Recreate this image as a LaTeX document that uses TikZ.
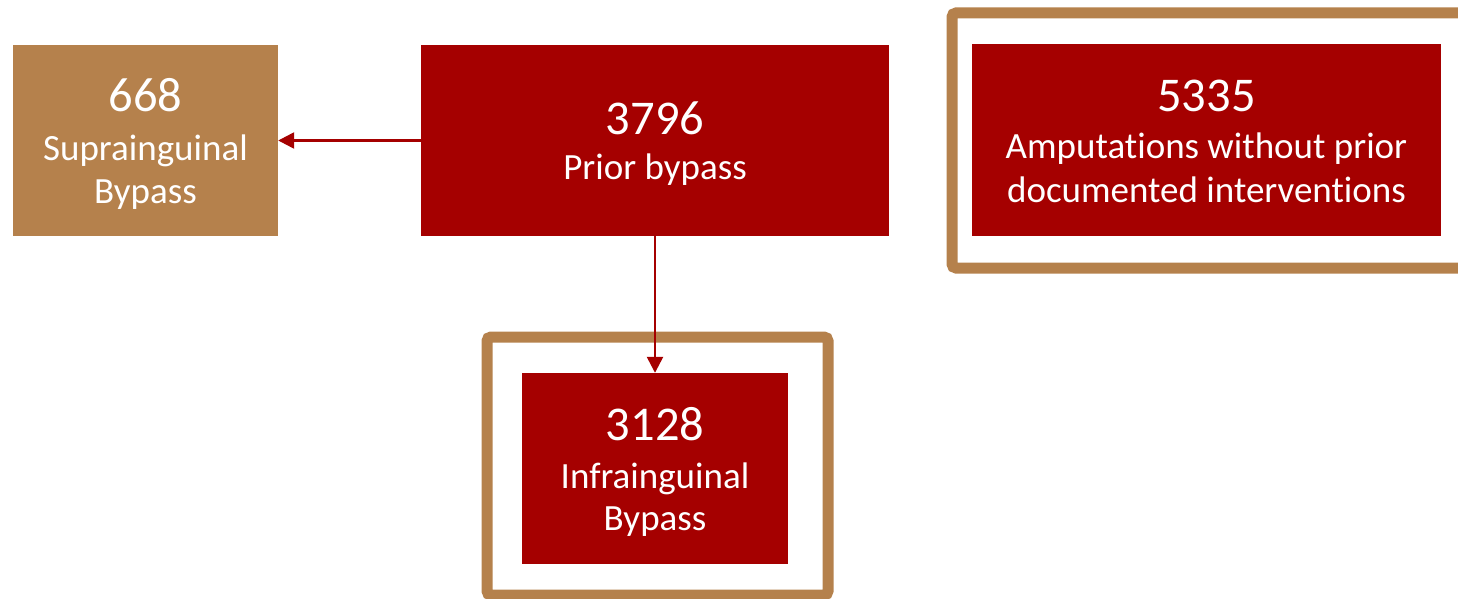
\documentclass[tikz,border=0pt]{standalone}
\usepackage{fontspec}
\setmainfont{Carlito}[Ligatures=NoCommon]
\usetikzlibrary{arrows.meta}
\definecolor{dred}{RGB}{165,0,0}
\definecolor{tanc}{RGB}{181,129,76}
\tikzset{
  redbox/.style={fill=dred, draw=none, inner sep=0pt},
  tanbox/.style={fill=tanc, draw=none, inner sep=0pt},
  frame/.style={draw=tanc, line width=11pt, rounded corners=4pt},
  conn/.style={draw=dred, line width=2.5pt, -{Triangle[length=16pt,width=16pt]}},
  numtxt/.style={text=white, anchor=base, inner sep=0pt, font=\fontsize{48.5}{50}\selectfont},
  lbltxt/.style={text=white, anchor=base, inner sep=0pt, font=\fontsize{37}{40}\selectfont},
}
\begin{document}
\begin{tikzpicture}[x=1pt,y=-1pt]
\useasboundingbox (0,0) rectangle (1458,599);
\clip (0,0) rectangle (1458,599);
% frames
\draw[frame] (952,13) rectangle (1480,268);
\draw[frame] (487,337) rectangle (828,595);
% boxes
\node[tanbox, minimum width=265pt, minimum height=191pt] (supra) at (145.5,140.5) {};
\node[redbox, minimum width=468pt, minimum height=191pt] (prior) at (655,140.5) {};
\node[redbox, minimum width=469pt, minimum height=192pt] (amp) at (1206.5,140) {};
\node[redbox, minimum width=266pt, minimum height=191pt] (infra) at (655,468.5) {};
% texts
\node[numtxt] (t1) at (145.5,112) {668};
\node[lbltxt] (t2) at (145.5,160) {Suprainguinal};
\node[lbltxt] (t3) at (145.5,203) {Bypass};
\node[numtxt] (t4) at (655,135) {3796};
\node[lbltxt] (t5) at (655,179) {Prior bypass};
\node[numtxt] (t6) at (1206.5,112) {5335};
\node[lbltxt] (t7) at (1206.5,158) {Amputations without prior};
\node[lbltxt] (t8) at (1206.5,202) {documented interventions};
\node[numtxt] (t9) at (655,440) {3128};
\node[lbltxt] (t10) at (655,488) {Infrainguinal};
\node[lbltxt] (t11) at (655,530) {Bypass};
% connectors
\draw[conn] (prior.west) -- (supra.east);
\draw[conn] (prior.south) -- (infra.north);
\end{tikzpicture}
\end{document}
